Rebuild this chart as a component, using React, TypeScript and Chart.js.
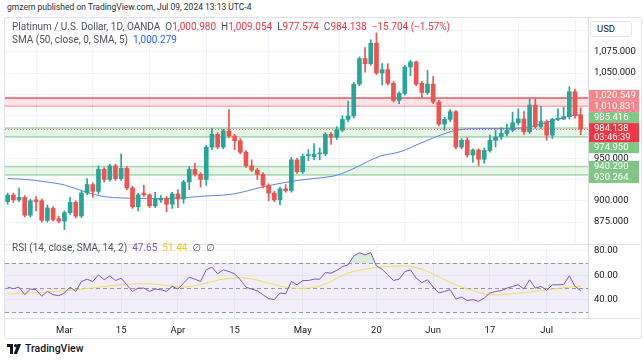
import React, { useEffect, useRef } from "react";
import { Chart, registerables } from "chart.js";

Chart.register(...registerables);

const FONT = "Roboto, 'Noto Sans', 'DejaVu Sans', sans-serif";

// ---- daily OHLC (Feb 16 .. Jul 09, 2024) ----
const OPEN = [899, 906.7, 901, 904, 883, 901, 900, 877, 891, 879, 876, 886, 898, 882, 909, 919, 911, 937, 925, 941, 926, 938, 915, 893, 909, 907, 894, 901, 903, 896, 908, 902, 922, 937, 931, 925, 963, 978, 963, 982, 976, 970.5, 957, 941, 936, 931, 918, 909, 901, 914, 912, 948, 934, 953, 952, 955, 955, 978, 974.5, 983, 995.5, 999.5, 1037, 1067, 1061, 1085, 1050, 1054, 1038, 1018, 1026, 1057, 1063, 1038, 1027, 1037, 1016, 990, 995.5, 1004.7, 963, 971, 953.7, 959.6, 948.7, 959, 971, 975, 979, 983, 991.5, 996, 981, 1012.4, 987, 993, 977, 995.6, 996, 998.7, 1028, 1000.98];
const HIGH = [909, 909, 915, 906, 902, 905, 902, 895, 893, 882, 888, 904, 900, 911, 926, 921, 941, 939, 943, 943, 955, 940, 917, 909, 918, 908, 910, 906, 905, 910, 913, 924, 940, 944, 933, 965, 985, 980, 984, 1007, 978, 973, 959, 948, 938, 933, 920, 911, 916, 919, 951, 950, 955, 960, 967, 962, 980, 980, 987, 1000, 1017, 1039, 1069, 1080, 1089, 1097, 1061, 1061, 1040, 1028, 1059, 1065, 1064, 1040, 1053, 1046, 1018, 998, 1007, 1006, 973, 974, 961, 961, 962, 977, 983, 986, 990, 1004, 1008, 1005, 1020, 1020, 1011, 995, 997, 1008, 1010, 1034, 1031, 1009.054];
const LOW = [896, 898, 899, 881, 881, 888, 875, 875, 876, 874, 866, 884, 880, 880, 907, 904, 908, 922, 923, 924, 924, 913, 891, 888, 905, 892, 892, 898, 887, 891, 892, 897, 913, 929, 916, 918, 960, 961, 961, 974, 960, 955, 939, 934, 925, 915, 900, 899, 895, 910, 910, 932, 932, 947, 948, 948, 953, 966, 972, 981, 993, 997, 1035, 1051, 1059, 1048, 1036, 1036, 1016, 1014, 1024, 1047, 1035, 1021, 1025, 1014, 988, 983, 993, 961, 961, 951, 945, 941, 944, 957, 963, 972, 976, 981, 989, 978, 979, 985, 985, 971, 973, 994, 995, 996, 997, 977.574];
const CLOSE = [906.7, 901, 904, 883, 900, 899, 877, 891.5, 878, 876, 886, 898, 882, 909, 919, 911, 937, 925, 941, 926, 938, 915, 893, 907, 907, 894, 902, 903, 896, 908, 902, 922, 937, 931, 925, 963, 978, 963, 982, 976, 970.5, 957, 941, 936, 931, 918, 909, 901, 914, 912, 948, 934, 952, 954, 955, 956, 978, 974.5, 983, 995.5, 999.5, 1037, 1067, 1061, 1085, 1050, 1054, 1038, 1018, 1026, 1057, 1063, 1037, 1027, 1037, 1016, 990, 995.5, 1004.7, 963, 971, 953.7, 959.6, 948.7, 959, 971, 975, 979, 983, 991.5, 996, 981, 1012.4, 987, 993, 977, 995.6, 996.2, 998.7, 1028, 999.842, 984.138];

// SMA(50) read at bar positions
const SMA_X = [0, 3, 6.6, 10, 13.6, 17.2, 23, 29, 34.8, 39.7, 45.7, 51.6, 57.4, 60.4, 63.4, 65.7, 69.2, 72.7, 77.5, 80.3, 83.3, 89, 92.1, 96.9, 100, 101];
const SMA_Y = [926, 925.1, 922.3, 918.5, 910.6, 904.7, 902.8, 902.8, 905.5, 907.9, 917.3, 924.3, 929, 936, 945.8, 952.5, 957.6, 967.4, 979.9, 983.9, 984.6, 985, 986.9, 995.6, 1000.7, 1000.279];

// RSI(14) per bar
const RSI = [50.5, 49.2, 50.5, 44.3, 48.9, 48.4, 43, 47, 44.3, 43.5, 45.7, 50.5, 47, 55.1, 57, 55.1, 60.5, 56.5, 59.7, 55.9, 57.8, 52.4, 47, 49.7, 49.7, 47, 48.9, 48.4, 47, 51.1, 48.9, 53.8, 58.6, 57, 55.1, 64.6, 66.8, 61.4, 64.6, 63.2, 61.4, 56.5, 50.5, 48.9, 47.5, 44.3, 41.1, 40.3, 45.7, 45.1, 55.1, 52.4, 55.9, 55.9, 57, 57, 62.4, 61.9, 64.1, 67.3, 68.6, 76, 78.6, 76.8, 78.6, 67.8, 65.1, 60.5, 55.9, 57, 63.2, 64.6, 57.8, 54.3, 56.5, 50.5, 45.7, 47, 48.4, 40.8, 42.4, 39.5, 40.3, 38.9, 41.6, 45.7, 47, 47.6, 49.7, 51, 52.4, 48.9, 56.5, 49.7, 51.1, 47.8, 52.4, 52.4, 52.6, 59.7, 51.1, 47.65];
// RSI-based MA read at bar positions
const RSI_MA_X = [0, 6, 13, 20, 24, 27, 31, 35, 38, 42, 46, 49, 53, 56, 60, 64, 67, 71, 74, 78, 82, 85, 89, 93, 96, 101];
const RSI_MA_Y = [44.9, 46.2, 48.9, 52.4, 53.2, 52.4, 50.5, 53.8, 57, 57.8, 53.8, 50.5, 49.7, 53.2, 61.9, 65.9, 67.3, 67.3, 63.2, 54.3, 47.6, 44.3, 45.1, 47, 48.9, 51.44];

const TIME_TICK_IDX = [10, 20, 30, 40, 52, 65, 75, 85, 95];
const TIME_TICK_LABELS = ["Mar", "15", "Apr", "15", "May", "20", "Jun", "17", "Jul"];
const PRICE_TICKS = [875, 900, 925, 950, 975, 1000, 1025, 1050, 1075, 1100];
const PRICE_LABEL_MAX = 1075;
const RSI_TICKS = [40, 60, 80];

const RED_ZONE = [1010.831, 1020.549];
const GREEN_ZONE_1 = [974.95, 985.416];
const GREEN_ZONE_2 = [930.264, 940.29];
const COUNTDOWN = "03:46:39";
const SMA_LAST = 1000.279;
const RSI_MA_LAST = 51.44;

const UP = "#26a69a";
const DOWN = "#ef5350";
const GRID = "#f0f3fa";
const TEXT = "#131722";

const X_MIN = -0.476;
const X_MAX = 102.29;

const fmt = (v: number) =>
  v.toLocaleString("en-US", { minimumFractionDigits: 3, maximumFractionDigits: 3 });

const timeTicks = (scale: any) => {
  scale.ticks = TIME_TICK_IDX.map((v) => ({ value: v }));
};
const noPad = (s: any) => {
  s.paddingTop = 0;
  s.paddingBottom = 0;
  s.paddingLeft = 0;
  s.paddingRight = 0;
};

const PriceChart = () => {
  const ref = useRef<HTMLCanvasElement>(null);
  useEffect(() => {
    const n = OPEN.length;
    const idx = OPEN.map((_, i) => i);
    const isUp = (i: number) => CLOSE[i] >= OPEN[i];
    const last = CLOSE[n - 1];

    const bandPlugin = {
      id: "bands",
      beforeDatasetsDraw(chart: any) {
        const { ctx, chartArea: a, scales } = chart;
        const y = scales.y;
        const hline = (v: number, color: string, w: number) => {
          const p = y.getPixelForValue(v);
          ctx.save();
          ctx.strokeStyle = color;
          ctx.lineWidth = w;
          ctx.beginPath();
          ctx.moveTo(a.left, p);
          ctx.lineTo(a.right, p);
          ctx.stroke();
          ctx.restore();
        };
        const band = (lo: number, hi: number, fill: string, top: string, bot: string) => {
          const y1 = y.getPixelForValue(hi);
          const y2 = y.getPixelForValue(lo);
          ctx.save();
          ctx.fillStyle = fill;
          ctx.fillRect(a.left, y1, a.right - a.left, y2 - y1);
          ctx.restore();
          hline(hi, top, 1.5);
          hline(lo, bot, 1.5);
        };
        band(RED_ZONE[0], RED_ZONE[1], "rgba(242,54,69,0.13)", "rgba(242,54,69,0.85)", "rgba(242,54,69,0.35)");
        band(GREEN_ZONE_1[0], GREEN_ZONE_1[1], "rgba(76,175,80,0.13)", "rgba(76,175,80,0.45)", "rgba(76,175,80,0.45)");
        band(GREEN_ZONE_2[0], GREEN_ZONE_2[1], "rgba(76,175,80,0.13)", "rgba(76,175,80,0.45)", "rgba(76,175,80,0.45)");
      },
      afterDatasetsDraw(chart: any) {
        const { ctx, chartArea: a, scales } = chart;
        const p = Math.round(scales.y.getPixelForValue(last)) + 0.5;
        ctx.save();
        ctx.strokeStyle = "rgba(242,54,69,0.8)";
        ctx.lineWidth = 1;
        ctx.setLineDash([1, 2]);
        ctx.beginPath();
        ctx.moveTo(a.left, p);
        ctx.lineTo(a.right, p);
        ctx.stroke();
        ctx.restore();
      },
      afterDraw(chart: any) {
        const { ctx, chartArea: a, scales } = chart;
        const y = scales.y;
        const H = 11;
        const W = 50;
        const x0 = a.right + 1;
        const labels = [
          { v: RED_ZONE[1], c: "#f7868b" },
          { v: RED_ZONE[0], c: "#f7868b" },
          { v: GREEN_ZONE_1[1], c: "#81c784" },
          { v: GREEN_ZONE_1[0], c: "#81c784" },
          { v: GREEN_ZONE_2[1], c: "#81c784" },
          { v: GREEN_ZONE_2[0], c: "#81c784" },
        ];
        const cy = y.getPixelForValue(last);
        const curTop = cy - 6;
        const curH = 19;
        const placed: { top: number; c: string; v: number }[] = [];
        const above = labels.filter((l) => y.getPixelForValue(l.v) < cy).sort((p, q) => p.v - q.v);
        let limit = curTop;
        for (const l of above) {
          let top = y.getPixelForValue(l.v) - H / 2;
          if (top + H > limit) top = limit - H;
          limit = top;
          placed.push({ top, c: l.c, v: l.v });
        }
        const below = labels.filter((l) => y.getPixelForValue(l.v) >= cy).sort((p, q) => q.v - p.v);
        limit = curTop + curH;
        for (const l of below) {
          let top = y.getPixelForValue(l.v) - H / 2;
          if (top < limit) top = limit;
          limit = top + H;
          placed.push({ top, c: l.c, v: l.v });
        }
        ctx.save();
        ctx.font = `9.5px ${FONT}`;
        ctx.textBaseline = "middle";
        ctx.textAlign = "left";
        for (const p of placed) {
          ctx.fillStyle = p.c;
          ctx.fillRect(x0, p.top, W, H);
          ctx.fillStyle = "#ffffff";
          ctx.fillText(fmt(p.v), x0 + 5, p.top + H / 2 + 0.5);
        }
        ctx.fillStyle = "#f23645";
        ctx.fillRect(x0, curTop, W, curH);
        ctx.fillStyle = "#ffffff";
        ctx.fillText(fmt(last), x0 + 5, curTop + 5.5);
        ctx.fillText(COUNTDOWN, x0 + 5, curTop + 14.5);
        ctx.restore();
      },
    };

    const chart = new Chart(ref.current as HTMLCanvasElement, {
      type: "bar",
      data: {
        datasets: [
          {
            type: "line",
            data: SMA_X.map((x, k) => ({ x, y: SMA_Y[k] })),
            borderColor: "#5b83ea",
            borderWidth: 1,
            pointRadius: 0,
            tension: 0.35,
            order: 3,
          } as any,
          {
            data: idx.map((i) => ({ x: i, y: [LOW[i], HIGH[i]] })),
            backgroundColor: idx.map((i) => (isUp(i) ? UP : DOWN)),
            barThickness: 1,
            grouped: false,
            order: 2,
          } as any,
          {
            data: idx.map((i) => ({ x: i, y: [Math.min(OPEN[i], CLOSE[i]), Math.max(OPEN[i], CLOSE[i])] })),
            backgroundColor: idx.map((i) => (isUp(i) ? UP : DOWN)),
            barThickness: 4,
            minBarLength: 1,
            grouped: false,
            order: 1,
          } as any,
        ],
      },
      options: {
        animation: false,
        responsive: false,
        devicePixelRatio: 1,
        layout: { padding: 0 },
        plugins: { legend: { display: false }, tooltip: { enabled: false } },
        scales: {
          x: {
            type: "linear",
            min: X_MIN,
            max: X_MAX,
            offset: false,
            afterBuildTicks: timeTicks,
            afterFit: (s: any) => {
              s.height = 0;
              noPad(s);
            },
            ticks: { display: false },
            grid: { color: GRID, drawTicks: false },
            border: { display: false },
          },
          y: {
            position: "right",
            min: 849.2,
            max: 1114.6,
            afterBuildTicks: (s: any) => {
              s.ticks = PRICE_TICKS.map((v) => ({ value: v }));
            },
            afterFit: (s: any) => {
              s.width = 53;
              noPad(s);
            },
            ticks: {
              padding: 6,
              color: TEXT,
              font: { family: FONT, size: 9.5 },
              callback: (v: any) => (Number(v) > PRICE_LABEL_MAX ? "" : fmt(Number(v))),
            },
            grid: { color: GRID, drawTicks: false },
            border: { color: "#d9dce3" },
          },
        },
      } as any,
      plugins: [bandPlugin],
    });
    return () => chart.destroy();
  }, []);
  return <canvas ref={ref} width={636} height={226} style={{ display: "block" }} />;
};

const RsiChart = () => {
  const ref = useRef<HTMLCanvasElement>(null);
  useEffect(() => {
    const rsiPlugin = {
      id: "rsiBand",
      beforeDatasetsDraw(chart: any) {
        const { ctx, chartArea: a, scales } = chart;
        const y = scales.y;
        const y70 = y.getPixelForValue(70);
        const y30 = y.getPixelForValue(30);
        ctx.save();
        ctx.fillStyle = "rgba(126,87,194,0.1)";
        ctx.fillRect(a.left, y70, a.right - a.left, y30 - y70);
        ctx.strokeStyle = "rgba(120,123,134,0.75)";
        ctx.lineWidth = 1;
        ctx.setLineDash([4, 3]);
        for (const v of [70, 50, 30]) {
          const p = Math.round(y.getPixelForValue(v)) + 0.5;
          ctx.beginPath();
          ctx.moveTo(a.left, p);
          ctx.lineTo(a.right, p);
          ctx.stroke();
        }
        ctx.restore();
      },
    };
    const chart = new Chart(ref.current as HTMLCanvasElement, {
      type: "line",
      data: {
        datasets: [
          {
            data: RSI.map((v, i) => ({ x: i, y: v })),
            borderColor: "#7e57c2",
            borderWidth: 1,
            pointRadius: 0,
            tension: 0,
            fill: { target: { value: 70 }, above: "rgba(76,175,80,0.22)", below: "rgba(0,0,0,0)" },
            order: 1,
          },
          {
            data: RSI_MA_X.map((x, k) => ({ x, y: RSI_MA_Y[k] })),
            borderColor: "#f2dc55",
            borderWidth: 1,
            pointRadius: 0,
            tension: 0.4,
            order: 2,
          },
        ],
      },
      options: {
        animation: false,
        responsive: false,
        devicePixelRatio: 1,
        layout: { padding: 0 },
        plugins: { legend: { display: false }, tooltip: { enabled: false } },
        scales: {
          x: {
            type: "linear",
            min: X_MIN,
            max: X_MAX,
            offset: false,
            afterBuildTicks: timeTicks,
            afterFit: (s: any) => {
              s.height = 20;
              noPad(s);
            },
            ticks: {
              padding: 7,
              maxRotation: 0,
              autoSkip: false,
              color: TEXT,
              font: { family: FONT, size: 9.5 },
              callback: (v: any) => {
                const k = TIME_TICK_IDX.indexOf(Number(v));
                return k >= 0 ? TIME_TICK_LABELS[k] : "";
              },
            },
            grid: { color: GRID, drawTicks: false },
            border: { display: false },
          },
          y: {
            position: "right",
            min: 25.3,
            max: 85.7,
            afterBuildTicks: (s: any) => {
              s.ticks = RSI_TICKS.map((v) => ({ value: v }));
            },
            afterFit: (s: any) => {
              s.width = 53;
              noPad(s);
            },
            ticks: {
              padding: 6,
              color: TEXT,
              font: { family: FONT, size: 9.5 },
              callback: (v: any) => Number(v).toFixed(2),
            },
            grid: { color: GRID, drawTicks: false },
            border: { color: "#d9dce3" },
          },
        },
      } as any,
      plugins: [rsiPlugin],
    });
    return () => chart.destroy();
  }, []);
  return <canvas ref={ref} width={636} height={94} style={{ display: "block" }} />;
};

export default function App() {
  const n = OPEN.length;
  const o = OPEN[n - 1];
  const h = HIGH[n - 1];
  const l = LOW[n - 1];
  const c = CLOSE[n - 1];
  const ch = c - CLOSE[n - 2];
  const pct = (ch / CLOSE[n - 2]) * 100;
  const red = "#f23645";
  const gray = "#50535e";
  const abs = (s: any): React.CSSProperties => ({ position: "absolute", ...s });
  return (
    <div
      style={{
        position: "fixed",
        left: 0,
        top: 0,
        width: 643,
        height: 361,
        background: "#fff",
        overflow: "hidden",
        fontFamily: FONT,
        color: TEXT,
      }}
    >
      <div style={abs({ left: 7, top: 2, fontSize: 8.5, color: "#2a2e39", whiteSpace: "nowrap" })}>
        gmzern published on TradingView.com, Jul 09, 2024 13:13 UTC-4
      </div>
      <div
        style={abs({
          left: 4,
          top: 17,
          width: 636,
          height: 320,
          border: "1px solid #e0e3eb",
          borderRadius: 3,
        })}
      />
      <div style={abs({ left: 5, top: 18 })}>
        <PriceChart />
      </div>
      <div style={abs({ left: 5, top: 244, width: 636, height: 1, background: "#e0e3eb" })} />
      <div style={abs({ left: 5, top: 244 })}>
        <RsiChart />
      </div>
      <div style={abs({ left: 5, top: 318, width: 636, height: 1, background: "#e0e3eb" })} />
      <div
        style={abs({
          left: 590,
          top: 21,
          width: 42,
          height: 16,
          border: "1px solid #e0e3eb",
          borderRadius: 3,
          background: "#fff",
          fontSize: 9.5,
          lineHeight: "14px",
          paddingLeft: 6,
          boxSizing: "border-box",
        })}
      >
        USD
      </div>
      <div style={abs({ left: 12, top: 21, fontSize: 10, whiteSpace: "nowrap", color: gray })}>
        Platinum / U.S. Dollar, 1D, OANDA&nbsp; O<span style={{ color: red }}>{fmt(o)}</span>&nbsp; H
        <span style={{ color: red }}>{fmt(h)}</span>&nbsp; L<span style={{ color: red }}>{fmt(l)}</span>&nbsp; C
        <span style={{ color: red }}>{fmt(c)}</span>&nbsp;{" "}
        <span style={{ color: red }}>
          {"\u2212" + Math.abs(ch).toFixed(3)} ({"\u2212" + Math.abs(pct).toFixed(2)}%)
        </span>
      </div>
      <div style={abs({ left: 12, top: 34, fontSize: 10, whiteSpace: "nowrap", color: gray })}>
        SMA (50, close, 0, SMA, 5)&nbsp; <span style={{ color: "#2962ff" }}>{fmt(SMA_LAST)}</span>
      </div>
      <div style={abs({ left: 12, top: 242, fontSize: 10, whiteSpace: "nowrap", color: gray })}>
        RSI (14, close, SMA, 14, 2)&nbsp; <span style={{ color: "#7e57c2" }}>{RSI[n - 1].toFixed(2)}</span>&nbsp;{" "}
        <span style={{ color: "#e8cc1c" }}>{RSI_MA_LAST.toFixed(2)}</span>&nbsp; ∅&nbsp; ∅
      </div>
      <div style={abs({ left: 7, top: 342, display: "flex", alignItems: "center", gap: 3 })}>
        <svg width="15" height="10" viewBox="0 0 15 10">
          <path d="M0 0 H6 V10 H3 V3 H0 Z" fill="#131722" />
          <circle cx="8.6" cy="1.6" r="1.6" fill="#131722" />
          <path d="M10.5 0 H14 L10 10 H6.6 Z" fill="#131722" />
        </svg>
        <span style={{ fontSize: 10.5, fontWeight: 500, color: "#131722" }}>TradingView</span>
      </div>
    </div>
  );
}
